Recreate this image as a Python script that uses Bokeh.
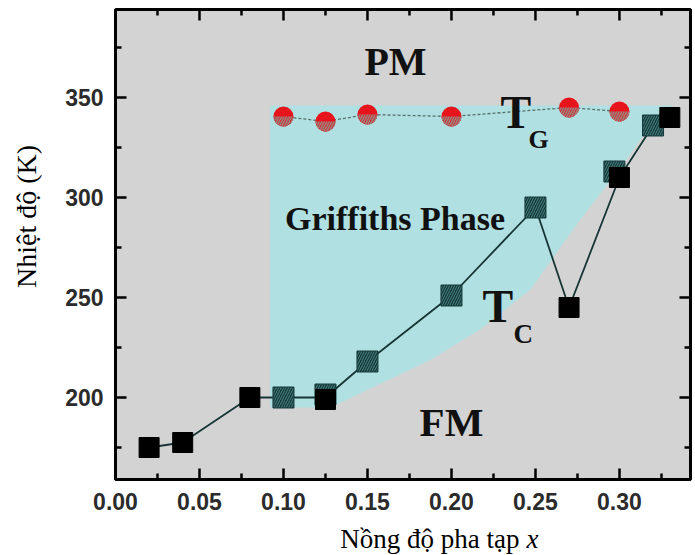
import math
from bokeh.plotting import figure
from bokeh.layouts import column
from bokeh.models import Label, FixedTicker, NumeralTickFormatter, Range1d
from bokeh.embed import file_html
from bokeh.resources import INLINE

# ---- data ----
# T_C (black squares, solid)
tc_solid_x = [0.02, 0.04, 0.08, 0.125, 0.27, 0.30, 0.33]
tc_solid_y = [175, 177.5, 200, 199, 245, 310, 340]
# T_C (hatched squares inside the Griffiths region)
tc_hatch_x = [0.10, 0.125, 0.15, 0.20, 0.25, 0.297, 0.32]
tc_hatch_y = [200, 201.5, 218, 251, 295, 313, 336]
# connecting line of T_C
tc_line_x = [0.02, 0.04, 0.08, 0.10, 0.125, 0.15, 0.20, 0.25, 0.27, 0.30, 0.32, 0.33]
tc_line_y = [175, 177.5, 200, 200, 200, 218, 251, 295, 245, 310, 336, 340]
# T_G (red circles)
tg_x = [0.10, 0.125, 0.15, 0.20, 0.27, 0.30]
tg_y = [340.5, 338, 341.5, 340.5, 345, 343]
# Griffiths phase region outline
gp_x = [0.092, 0.092, 0.128, 0.158, 0.188, 0.217, 0.247, 0.275, 0.305, 0.322, 0.332]
gp_y = [346, 195, 195, 207, 219, 234, 254, 287, 320, 340, 346]
# ticks
x_ticks = [0.00, 0.05, 0.10, 0.15, 0.20, 0.25, 0.30]
x_minor = [0.025, 0.075, 0.125, 0.175, 0.225, 0.275, 0.325]
y_ticks = [200, 250, 300, 350]
y_minor = [175, 225, 275, 325, 375]

X0, X1 = 0.0, 0.3423
Y0, Y1 = 159, 394
NBSP = "\u00a0"

p = figure(frame_width=575, frame_height=470,
           x_range=Range1d(X0, X1), y_range=Range1d(Y0, Y1),
           output_backend="svg", toolbar_location=None,
           min_border_left=115, min_border_right=3, min_border_top=9, min_border_bottom=36,
           background_fill_color="#d3d3d3", border_fill_color="white",
           outline_line_color="black", outline_line_width=3)
p.xgrid.visible = False
p.ygrid.visible = False

def style_axis(ax, ticks, minor, standoff):
    ax.ticker = FixedTicker(ticks=ticks, minor_ticks=minor)
    ax.axis_line_color = None
    ax.major_tick_in = 11
    ax.major_tick_out = 0
    ax.minor_tick_in = 6
    ax.minor_tick_out = 0
    ax.major_tick_line_width = 2.5
    ax.minor_tick_line_width = 2.5
    ax.major_tick_line_color = "black"
    ax.minor_tick_line_color = "black"
    ax.major_label_text_font = "Liberation Sans"
    ax.major_label_text_font_style = "bold"
    ax.major_label_text_color = "#2b2b2b"
    ax.major_label_text_font_size = "23px"
    ax.major_label_standoff = standoff

xa = p.xaxis[0]
style_axis(xa, x_ticks, x_minor, 13)
xa.formatter = NumeralTickFormatter(format="0.00")
ya = p.yaxis[0]
style_axis(ya, y_ticks, y_minor, 12)
# y axis title; leading no-break spaces lift it above the frame centre as in the reference
ya.axis_label = NBSP * 8 + "Nhiệt độ (K)"
ya.axis_label_text_font = "Liberation Serif"
ya.axis_label_text_font_style = "normal"
ya.axis_label_text_font_size = "28px"
ya.axis_label_text_color = "black"
ya.axis_label_standoff = 20

# Griffiths region
p.patch(gp_x, gp_y, fill_color="#b0e0e2", line_color=None)

# lines
p.line(tg_x, tg_y, line_color="#5a6e6e", line_width=1.3, line_dash="3 2")
p.line(tc_line_x, tc_line_y, line_color="#173535", line_width=1.8)

# markers
p.scatter(tc_hatch_x, tc_hatch_y, marker="square", size=21,
          fill_color="#153839", line_color="#153839",
          hatch_pattern="/", hatch_color="#4a8686", hatch_weight=1, hatch_scale=5)
p.scatter(tc_solid_x, tc_solid_y, marker="square", size=20,
          fill_color="black", line_color="black")

p.scatter(tg_x, tg_y, marker="circle", size=20, fill_color="#e8141c", line_color=None)
p.wedge(tg_x, tg_y, radius=10, radius_units="screen",
        start_angle=math.pi, end_angle=2 * math.pi,
        fill_color="#d2343a", line_color=None,
        hatch_pattern="/", hatch_color="#8f8f86", hatch_weight=1.2, hatch_scale=5)

# mirrored ticks on the top and right frame edges (clipped to the frame -> inward)
p.scatter(x_ticks, [Y1] * len(x_ticks), marker="dash", angle=math.pi / 2, size=22,
          line_color="black", line_width=2.5)
p.scatter(x_minor, [Y1] * len(x_minor), marker="dash", angle=math.pi / 2, size=12,
          line_color="black", line_width=2.5)
p.scatter([X1] * len(y_ticks), y_ticks, marker="dash", size=22,
          line_color="black", line_width=2.5)
p.scatter([X1] * len(y_minor), y_minor, marker="dash", size=12,
          line_color="black", line_width=2.5)

def lab(fig, x, y, text, size, align="left", style="bold", color="#111111"):
    fig.add_layout(Label(x=x, y=y, text=text, text_font="Liberation Serif", text_font_style=style,
                         text_font_size=size, text_align=align, text_baseline="alphabetic",
                         text_color=color))

lab(p, 0.1667, 368, "PM", "40px", align="center")
lab(p, 0.1664, 289.5, "Griffiths Phase", "34px", align="center")
lab(p, 0.2292, 342.5, "T", "46px")
lab(p, 0.2458, 329, "G", "26px")
lab(p, 0.2185, 245.5, "T", "46px")
lab(p, 0.2369, 232, "C", "27px")
lab(p, 0.2, 188, "FM", "41px", align="center")

# x axis title in a strip under the plot, sharing the x scale
fx = figure(frame_width=575, frame_height=40, x_range=p.x_range, y_range=Range1d(0, 40),
            x_axis_type=None, y_axis_type=None,
            output_backend="svg", toolbar_location=None,
            min_border_left=115, min_border_right=3, min_border_top=0, min_border_bottom=0,
            outline_line_color=None, background_fill_color="white", border_fill_color="white")
fx.grid.visible = False
lab(fx, 0.2405, 16.5, "Nồng độ pha tạp", "27px", align="right", style="normal", color="black")
lab(fx, 0.2446, 16.5, "x", "27px", align="left", style="italic", color="black")

layout = column(p, fx, spacing=0)
open("out.html", "w").write(file_html(layout, INLINE))
